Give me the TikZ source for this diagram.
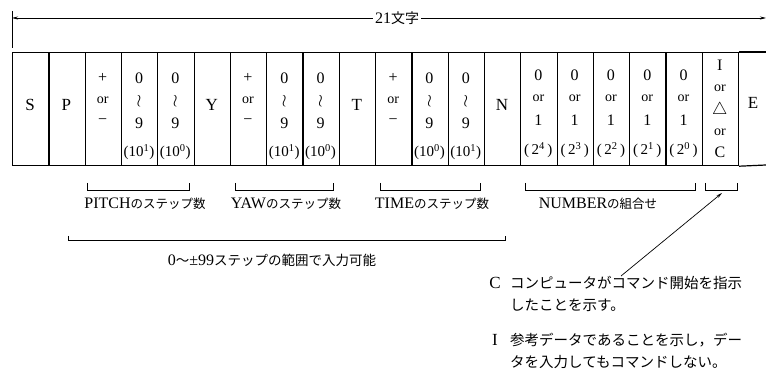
\documentclass[tikz,border=0pt]{standalone}
\usepackage{fontspec}
\setmainfont{Liberation Serif}
\newfontfamily\jp{Noto Sans CJK JP}
\usetikzlibrary{arrows.meta}
\newcommand\cX[1]{12+36.3*(#1-0.5)}
\newcommand\DigCol[2]{%
  \node[dg] (d#1a) at ({\cX{#1}},78) {0};
  \node[dg] (d#1b) at ({\cX{#1}},101) {$\wr$};
  \node[dg] (d#1c) at ({\cX{#1}},123) {9};
  \node[ex] (d#1d) at ({\cX{#1}},152) {(10\textsuperscript{#2})};}
\newcommand\SgnCol[1]{%
  \node[dg] (s#1a) at ({\cX{#1}},78) {+};
  \node[orr] (s#1b) at ({\cX{#1}},100) {or};
  \node[dg] (s#1c) at ({\cX{#1}},122) {−};}
\newcommand\BinCol[2]{%
  \node[dg] (b#1a) at ({\cX{#1}},75) {0};
  \node[orr] (b#1b) at ({\cX{#1}},98) {or};
  \node[dg] (b#1c) at ({\cX{#1}},120) {1};
  \node[ex] (b#1d) at ({\cX{#1}},150) {(\,2\textsuperscript{#2}\,)};}
\newcommand\Brk[3]{\draw[thin line] (#1,#3-7) -- (#1,#3) -- (#2,#3) -- (#2,#3-7);}
\begin{document}
\begin{tikzpicture}[x=1pt,y=-1pt,
  thin line/.style={line width=0.7pt},
  cell/.style={draw, line width=1.2pt, minimum width=36.3pt, minimum height=113pt, inner sep=0pt, anchor=north west},
  dg/.style={inner sep=0pt, font=\fontsize{16}{18}\selectfont},
  orr/.style={inner sep=0pt, font=\fontsize{14}{16}\selectfont},
  ex/.style={inner sep=0pt, font=\fontsize{15}{17}\selectfont},
  let/.style={inner sep=0pt, font=\fontsize{17}{19}\selectfont},
  lab/.style={inner sep=0pt, font=\fontsize{16}{18}\selectfont},
  note/.style={inner sep=0pt, anchor=west, font=\fontsize{14.5}{17}\selectfont\jp},
]
\useasboundingbox (0,0) rectangle (766,374);
% dimension line
\coordinate (dl) at (12,18);
\coordinate (dr) at (766,18);
\draw[thin line] (12,11) -- (12,48);
\node[lab, fill=white, inner xsep=2pt] (w21) at (397,18) {21{\jp\fontsize{14}{16}\selectfont 文字}};
\draw[thin line, -{Stealth[length=6pt,width=3pt]}] (w21.west) -- (dl);
\draw[thin line, -{Stealth[length=6pt,width=3pt]}] (w21.east) -- (dr);
% table
\foreach \i in {0,...,19} \node[cell] (c\i) at ({12+36.3*\i},52) {};
\coordinate (et) at (766,52);
\coordinate (eb) at (766,165);
\draw[line width=1.2pt] (c19.north east) -- (et);
\draw[line width=1.2pt] (c19.south east) -- (eb);
% letters
\node[let] (tS) at ({\cX{1}},105) {S};
\node[let] (tP) at ({\cX{2}},105) {P};
\node[let] (tY) at ({\cX{6}},105) {Y};
\node[let] (tT) at ({\cX{10}},105) {T};
\node[let] (tN) at ({\cX{14}},105) {N};
\node[let] (tE) at (753,103) {E};
\SgnCol{3}
\DigCol{4}{1}
\DigCol{5}{0}
\SgnCol{7}
\DigCol{8}{1}
\DigCol{9}{0}
\SgnCol{11}
\DigCol{12}{0}
\DigCol{13}{1}
\BinCol{15}{4}
\BinCol{16}{3}
\BinCol{17}{2}
\BinCol{18}{1}
\BinCol{19}{0}
\node[dg] (i1) at ({\cX{20}},65) {I};
\node[orr] (i2) at ({\cX{20}},88) {or};
\node[dg] (i3) at ({\cX{20}},110) {$\triangle$};
\node[orr] (i4) at ({\cX{20}},132) {or};
\node[dg] (i5) at ({\cX{20}},152) {C};
% brackets
\Brk{87}{189}{190}
\Brk{235}{333}{190}
\Brk{380}{480}{190}
\Brk{525}{695}{190}
\Brk{705}{737}{190}
\coordinate (icb) at (722,193);
\node[lab] (lp) at (145,204) {PITCH{\jp\fontsize{12.5}{14}\selectfont のステップ数}};
\node[lab] (ly) at (286,204) {YAW{\jp\fontsize{12.5}{14}\selectfont のステップ数}};
\node[lab] (lt) at (432,204) {TIME{\jp\fontsize{12.5}{14}\selectfont のステップ数}};
\node[lab] (ln) at (598,204) {NUMBER{\jp\fontsize{12.5}{14}\selectfont の組合せ}};
\draw[thin line] (68,236) -- (68,240) -- (505,240) -- (505,236);
\node[lab] (lr) at (272,260) {0{\jp\fontsize{13.5}{15}\selectfont ～}±99{\jp\fontsize{13.5}{15}\selectfont ステップの範囲で入力可能}};
% notes
\node[let] (nC) at (495,283) {C};
\node[note] (nC1) at (510,283) {コンピュータがコマンド開始を指示};
\node[note] (nC2) at (510,305) {したことを示す。};
\node[let] (nI) at (495,340) {I};
\node[note] (nI1) at (510,340) {参考データであることを示し，デー};
\node[note] (nI2) at (510,362) {タを入力してもコマンドしない。};
\coordinate (cs) at (621,276);
\draw[thin line, -{Stealth[length=6pt,width=3pt]}] (cs) -- (icb);
\end{tikzpicture}
\end{document}
